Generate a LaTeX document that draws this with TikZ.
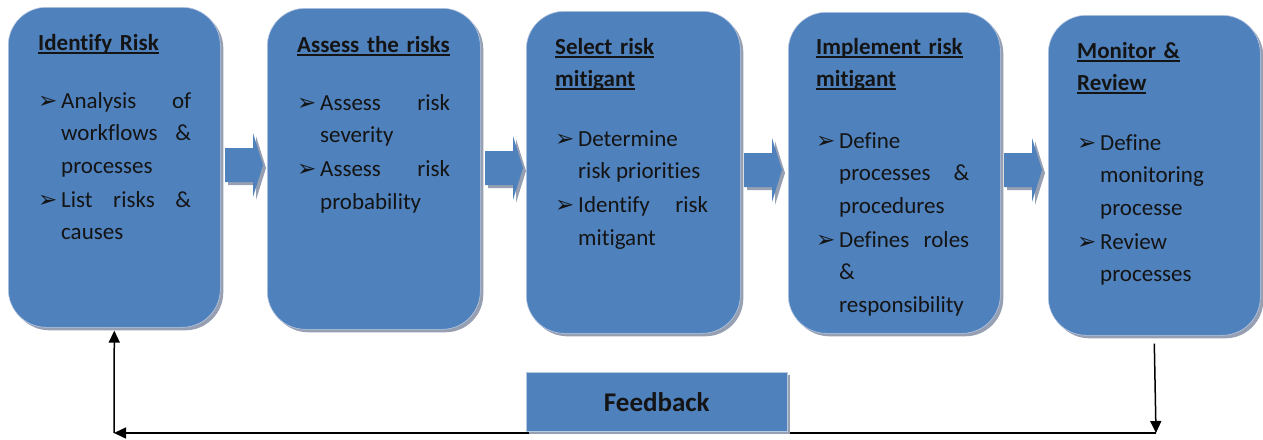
\documentclass[tikz,border=0pt]{standalone}
\usepackage{fontspec}
\setmainfont{Carlito}[Ligatures=NoCommon]
\newfontfamily\dejavu{DejaVu Sans}
\usetikzlibrary{shadows,arrows.meta}
\definecolor{boxblue}{RGB}{79,129,189}
\definecolor{shadowgray}{RGB}{150,160,178}
\definecolor{edgeblue}{RGB}{185,200,225}
\definecolor{inktext}{RGB}{20,20,20}
\newcommand\uln[1]{\leavevmode\setbox0\hbox{#1}\rlap{\rule[-3.5pt]{\wd0}{1.8pt}}\box0}
\newcommand\bul{\makebox[23pt][l]{\dejavu\fontsize{23pt}{23pt}\selectfont ➢}}
\newcommand\bitem{\noindent\hangindent=23pt\relax\hangafter=1\relax\bul}
\newcommand\bodyset{\setlength{\parskip}{1.5pt}\setlength{\parindent}{0pt}}
\tikzset{
  stagebox/.style={draw=edgeblue, line width=0.6pt, fill=boxblue, rounded corners=38pt,
    anchor=north west, inner sep=0pt,
    general shadow={fill=shadowgray, shadow xshift=3pt, shadow yshift=-3pt}},
  titletext/.style={anchor=base west, inner sep=0pt, text width=160pt, align=left, text=inktext,
    font=\fontsize{23pt}{32pt}\selectfont\bfseries},
  bodytext/.style={anchor=base west, inner sep=0pt, text width=153pt, align=justify, text=inktext,
    font=\fontsize{23pt}{32.5pt}\selectfont},
  fbbox/.style={draw=edgeblue, line width=0.6pt, fill=boxblue, anchor=north west, inner sep=0pt,
    general shadow={fill=shadowgray, shadow xshift=3pt, shadow yshift=-3pt}, text=inktext,
    font=\fontsize{27pt}{27pt}\selectfont\bfseries},
  feedline/.style={line width=1.5pt, -{Triangle[length=12pt,width=11pt]}}
}
\newcommand\blkarr[2]{%
  \fill[shadowgray] (#1+3,#2-17+3) -- (#1+28+3,#2-17+3) -- (#1+28+3,#2-32+3) -- (#1+38+3,#2+3)
    -- (#1+28+3,#2+32+3) -- (#1+28+3,#2+17+3) -- (#1+3,#2+17+3) -- cycle;
  \fill[boxblue] (#1,#2-17) -- (#1+28,#2-17) -- (#1+28,#2-32) -- (#1+38,#2)
    -- (#1+28,#2+32) -- (#1+28,#2+17) -- (#1,#2+17) -- cycle;}
\begin{document}
\begin{tikzpicture}[x=1pt, y=-1pt]
\useasboundingbox (0,0) rectangle (1263,439);

\node[stagebox, minimum width=212pt, minimum height=320pt] (b1) at (8,7) {};
\node[stagebox, minimum width=213pt, minimum height=321pt] (b2) at (267,8) {};
\node[stagebox, minimum width=214pt, minimum height=322pt] (b3) at (526,11) {};
\node[stagebox, minimum width=212pt, minimum height=321pt] (b4) at (788,12) {};
\node[stagebox, minimum width=212pt, minimum height=320pt] (b5) at (1048,15) {};

% feedback loop connectors
\coordinate (c5) at (1156,433);
\coordinate (c1) at (114,433);
\draw[feedline] ([yshift=-8pt]b5.south) -- (c5);
\draw[feedline] (c5) -- (c1);
\draw[feedline] (c1) -- ([yshift=-3pt]b1.south);

\node[fbbox, minimum width=261pt, minimum height=59pt] (fb) at (526,372) {Feedback};

% block arrows between stages
\blkarr{225}{165}
\blkarr{485}{168}
\blkarr{744}{170}
\blkarr{1004}{170}

% texts
\node[titletext] (h1) at (38,50) {\uln{Identify Risk}};
\node[bodytext] (p1) at (38,108) {\bodyset\bitem Analysis of\linebreak workflows \&\linebreak processes\par
\bitem List risks \&\linebreak causes\par};

\node[titletext] (h2) at (297,52) {\uln{Assess the risks}};
\node[bodytext] (p2) at (297,110) {\bodyset\bitem Assess risk\linebreak severity\par
\bitem Assess risk\linebreak probability\par};

\node[titletext] (h3) at (555,54) {\uln{Select risk}\\\uln{mitigant}};
\node[bodytext] (p3) at (555,146) {\bodyset\bitem Determine\\ risk priorities\par
\bitem Identify risk\linebreak mitigant\par};

\node[titletext] (h4) at (816,54) {\uln{Implement risk}\\\uln{mitigant}};
\node[bodytext] (p4) at (816,148) {\bodyset\bitem Define\\ processes \&\linebreak procedures\par
\bitem Defines roles\linebreak \&\\ responsibility\par};

\node[titletext] (h5) at (1077,58) {\uln{Monitor \&}\\\uln{Review}};
\node[bodytext] (p5) at (1077,150) {\bodyset\bitem Define\\ monitoring\\ processe\par
\bitem Review\\ processes\par};
\end{tikzpicture}
\end{document}
